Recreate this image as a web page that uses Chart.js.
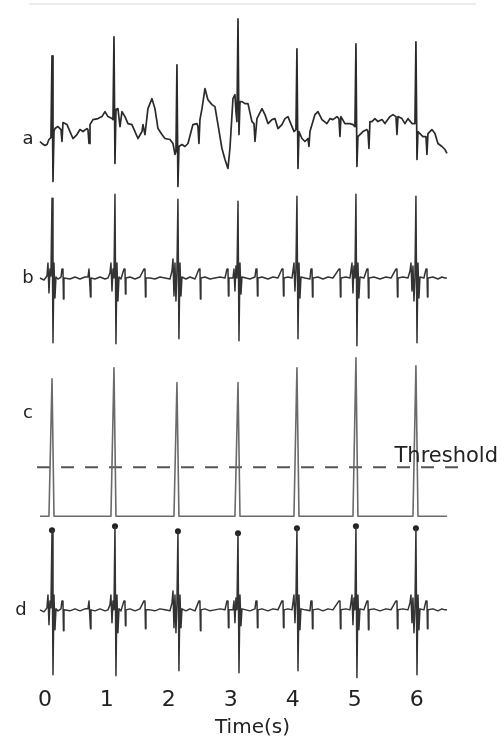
<!DOCTYPE html>
<html>
<head>
<meta charset="utf-8">
<title>ECG R-peak detection</title>
<script src="https://cdn.jsdelivr.net/npm/chart.js@4.4.1/dist/chart.umd.min.js"></script>
<style>
  html, body { margin: 0; padding: 0; background: #fff; }
  canvas { display: block; }
</style>
</head>
<body>
<canvas id="ecgChart" width="504" height="742"></canvas>
<script>
// time axis (s)
const tickValues = [0, 1, 2, 3, 4, 5, 6];
const tickLabels = ["0", "1", "2", "3", "4", "5", "6"];

// trace names and their baselines on the shared (arbitrary unit) y axis
const traceNames = ["a", "b", "c", "d"];
const traceOffsets = [544, 407, 168, 74];

// a: raw ECG (with baseline wander)
const aTime = [
  -0.079, -0.047, 0.002, 0.034, 0.066,
  0.098, 0.115, 0.131, 0.147,
  0.163, 0.211, 0.260, 0.276, 0.292, 0.357, 0.405, 0.453, 0.518, 0.566, 0.615, 0.679, 0.695, 0.712, 0.728, 0.776, 0.857, 0.921, 0.970, 1.018, 1.083,
  1.099, 1.115, 1.131, 1.147,
  1.179, 1.212, 1.244, 1.292, 1.341, 1.405, 1.454, 1.502, 1.567, 1.583, 1.615, 1.663, 1.728, 1.776, 1.825, 1.889, 1.938, 2.018, 2.067, 2.099,
  2.115, 2.131, 2.147, 2.163,
  2.212, 2.260, 2.309, 2.389, 2.454, 2.470, 2.486, 2.502, 2.535, 2.583, 2.631, 2.696, 2.744, 2.793, 2.857, 2.906, 2.954, 2.986, 3.035, 3.067, 3.083,
  3.099, 3.116, 3.132, 3.148,
  3.180, 3.228, 3.277, 3.341, 3.374, 3.390, 3.422, 3.503, 3.551, 3.600, 3.664, 3.712, 3.761, 3.825, 3.874, 3.922, 3.987, 4.019,
  4.051, 4.067, 4.084, 4.100,
  4.148, 4.196, 4.245, 4.261, 4.277, 4.358, 4.406, 4.471, 4.551, 4.600, 4.648, 4.713, 4.745, 4.761, 4.777, 4.842, 4.922, 4.971, 5.003,
  5.019, 5.035, 5.051,
  5.084, 5.132, 5.197, 5.213, 5.229, 5.245, 5.277, 5.326, 5.374, 5.439, 5.487, 5.568, 5.616, 5.665, 5.681, 5.697, 5.761, 5.810, 5.858, 5.923, 5.971,
  5.987, 6.004, 6.020,
  6.052, 6.100, 6.149, 6.165, 6.181, 6.245, 6.294, 6.342, 6.407, 6.455, 6.487
];
const aVal = [
  0, -2, -4, -3, 2,
  4, 86, -40, 10,
  13, 15, 12, 0, 19, 17, 10, 3, 7, 12, 10, 13, 12, -2, 17, 22, 23, 25, 30, 25, 23,
  22, 105, -22, 32,
  33, 15, 30, 25, 18, 17, 10, 3, 10, 17, 7, 33, 43, 33, 13, 7, 3, 2, -2, -13,
  -10, 77, -45, -5,
  -3, -5, -2, 17, 18, 15, -2, 22, 33, 53, 42, 37, 35, 17, -7, -18, -27, -7, 43, 47, 30,
  20, 123, 7, 40,
  40, 38, 38, 20, 18, 0, 23, 33, 27, 18, 22, 23, 13, 17, 23, 25, 15, 10,
  12, 93, -27, 10,
  3, 0, 3, -5, 10, 27, 30, 22, 18, 23, 22, 25, 23, 5, 25, 18, 18, 17, 15,
  98, -25, 5,
  7, 10, 12, 10, -7, 20, 20, 23, 20, 22, 18, 25, 27, 25, 7, 25, 23, 18, 23, 18, 18,
  100, -18, 10,
  8, 5, 5, -13, 8, 12, 8, -2, -5, -8, -12
];

// b: filtered ECG (d is the same signal)
const bTime = [
  -0.079, -0.015, 0.034,
  0.050, 0.066, 0.082, 0.098, 0.115, 0.131, 0.147, 0.163, 0.179,
  0.211, 0.260, 0.276, 0.292, 0.300, 0.308, 0.405, 0.486, 0.566, 0.647, 0.695, 0.712, 0.728, 0.736, 0.744, 0.808, 0.889, 0.970, 1.018,
  1.050, 1.066, 1.083, 1.099, 1.115, 1.131, 1.147, 1.163, 1.179, 1.196,
  1.228, 1.276, 1.292, 1.300, 1.308, 1.373, 1.454, 1.534, 1.599, 1.615, 1.623, 1.631, 1.696, 1.776, 1.857, 1.938, 2.018,
  2.051, 2.067, 2.083, 2.099, 2.115, 2.131, 2.147, 2.163, 2.180, 2.196, 2.212,
  2.276, 2.341, 2.422, 2.486, 2.502, 2.510, 2.518, 2.583, 2.664, 2.744, 2.825, 2.906, 2.938, 2.954, 2.962, 2.970, 3.035,
  3.051, 3.067, 3.083, 3.099, 3.116, 3.132, 3.148, 3.164, 3.180,
  3.245, 3.309, 3.390, 3.406, 3.422, 3.430, 3.438, 3.503, 3.600, 3.680, 3.761, 3.825, 3.842, 3.850, 3.858, 3.922, 3.987,
  4.003, 4.019, 4.035, 4.051, 4.067, 4.084, 4.100, 4.116, 4.132,
  4.196, 4.277, 4.293, 4.310, 4.318, 4.326, 4.406, 4.487, 4.568, 4.648, 4.745, 4.761, 4.769, 4.777, 4.858, 4.922,
  4.938, 4.955, 4.971, 4.987, 5.003, 5.019, 5.035, 5.051, 5.067, 5.084,
  5.148, 5.197, 5.213, 5.221, 5.229, 5.310, 5.406, 5.503, 5.584, 5.665, 5.681, 5.689, 5.697, 5.778, 5.858,
  5.891, 5.907, 5.923, 5.939, 5.955, 5.971, 5.987, 6.004, 6.020, 6.036, 6.052,
  6.116, 6.149, 6.165, 6.173, 6.181, 6.262, 6.342, 6.407, 6.455, 6.487
];
const bVal = [
  0, -2, 2,
  15, -15, 9, 2, 80, -65, 15, -20, 1,
  -1, 1, 9, 9, -21, 0, -1, 1, -1, 1, 1, 9, 9, -19, 0, -1, 1, -1, 0,
  5, 15, -13, 9, 0, 84, -66, 15, -23, 1,
  -1, 9, 9, -16, 0, 1, -1, 1, 9, 9, -19, 0, 0, -1, 1, 0, -1,
  7, 19, -18, 15, -23, 7, 79, -61, 15, -18, 1,
  -1, 1, -1, 9, 9, -21, 0, 1, -1, 0, 1, 0, 9, 9, -18, 0, 0,
  9, -13, 12, 0, 77, -63, 15, -16, 1,
  0, -1, 1, 9, 9, -18, 0, 1, -1, 1, 0, 9, 9, -18, 0, 1, 0,
  7, 15, -13, 9, 82, -61, 15, -20, 1,
  0, -1, 9, 9, -19, 0, 1, -1, 1, 0, 9, 9, -19, 0, 1, 0,
  7, 15, -15, 12, 0, 84, -68, 15, -20, 1,
  0, 9, 9, -20, 0, 1, -1, 1, 0, 9, 9, -19, 0, 1, 0,
  7, 15, -13, 12, -23, 0, 82, -65, 15, -20, 1,
  0, 9, 9, -19, 0, 1, -1, 1, 0, 0
];

// c: squared / integrated signal
const cTime = [
  -0.079,
  0.066, 0.115, 0.147,
  1.066, 1.115, 1.147,
  2.083, 2.131, 2.163,
  3.067, 3.116, 3.148,
  4.019, 4.067, 4.100,
  4.971, 5.019, 5.051,
  5.939, 5.987, 6.020,
  6.487
];
const cVal = [
  0,
  0, 138, 0,
  0, 149, 0,
  0, 134, 0,
  0, 134, 0,
  0, 149, 0,
  0, 159, 0,
  0, 151, 0,
  0
];
const thresholdLevel = 49;
const thresholdSpan = [-0.127, 6.73];

// detected R peaks (marked on d)
const rPeakTime = [0.115, 1.131, 2.147, 3.116, 4.067, 5.019, 5.987];
const rPeakVal = [80, 84, 79, 77, 82, 84, 82];

// build {x,y} points for a trace shifted to its baseline
function toPoints(times, vals, offset) {
  return times.map((t, i) => ({ x: t, y: offset + vals[i] }));
}

const traceStyle = {
  pointRadius: 0,
  tension: 0,
  fill: false,
  borderJoinStyle: "round",
};

// 🏷Ô∏è letters a-d and the threshold label
const labelPlugin = {
  id: "traceLabels",
  afterDraw(chart) {
    const { ctx } = chart;
    const y = chart.scales.y;
    const shifts = [2, 5, -98, 5];
    const xs = [28, 28, 28, 21];
    ctx.save();
    ctx.fillStyle = "#222";
    ctx.font = '18px "DejaVu Sans"';
    ctx.textAlign = "center";
    ctx.textBaseline = "alphabetic";
    traceNames.forEach((name, i) => {
      ctx.fillText(name, xs[i], y.getPixelForValue(traceOffsets[i]) + shifts[i]);
    });
    ctx.font = '21px "DejaVu Sans"';
    ctx.textAlign = "right";
    ctx.fillText("Threshold", 498, y.getPixelForValue(traceOffsets[2] + thresholdLevel) - 5);
    ctx.restore();
  },
};

const ctx = document.getElementById("ecgChart").getContext("2d");
new Chart(ctx, {
  type: "line",
  data: {
    datasets: [
      {
        label: "a",
        data: toPoints(aTime, aVal, traceOffsets[0]),
        borderColor: "#2a2a2a",
        borderWidth: 1.7,
        ...traceStyle,
      },
      {
        label: "b",
        data: toPoints(bTime, bVal, traceOffsets[1]),
        borderColor: "#333",
        borderWidth: 1.5,
        ...traceStyle,
      },
      {
        label: "c",
        data: toPoints(cTime, cVal, traceOffsets[2]),
        borderColor: "#6a6a6a",
        borderWidth: 1.6,
        ...traceStyle,
      },
      {
        label: "Threshold",
        data: thresholdSpan.map((t) => ({ x: t, y: traceOffsets[2] + thresholdLevel })),
        borderColor: "#555",
        borderWidth: 2,
        borderDash: [13, 11],
        ...traceStyle,
      },
      {
        label: "d",
        data: toPoints(bTime, bVal, traceOffsets[3]),
        borderColor: "#333",
        borderWidth: 1.5,
        ...traceStyle,
      },
      {
        label: "R peaks",
        data: toPoints(rPeakTime, rPeakVal, traceOffsets[3]),
        showLine: false,
        pointRadius: 3,
        pointBackgroundColor: "#222",
        pointBorderColor: "#222",
        pointBorderWidth: 0,
      },
    ],
  },
  options: {
    responsive: false,
    animation: false,
    events: [],
    layout: { padding: { left: 30, right: 29, top: 2, bottom: 0 } },
    plugins: {
      legend: { display: false },
      tooltip: { enabled: false },
    },
    scales: {
      x: {
        type: "linear",
        position: "bottom",
        min: -0.24,
        max: 6.94,
        afterBuildTicks: (scale) => {
          scale.ticks = tickValues.map((v) => ({ value: v }));
        },
        grid: { display: false, drawTicks: false },
        border: { display: false },
        ticks: {
          autoSkip: false,
          maxRotation: 0,
          padding: 3,
          color: "#222",
          font: { family: "DejaVu Sans", size: 22 },
          callback: (value, index) => tickLabels[index],
        },
        title: {
          display: true,
          text: "Time(s)",
          color: "#222",
          font: { family: "DejaVu Sans", size: 20 },
          padding: { top: 0, bottom: 2 },
        },
      },
      xTop: {
        type: "linear",
        position: "top",
        min: -0.24,
        max: 6.94,
        grid: { display: false, drawTicks: false },
        border: { display: true, color: "#ececec", width: 2 },
        ticks: { display: false },
      },
      y: {
        display: false,
        min: 0,
        max: 682,
      },
    },
  },
  plugins: [labelPlugin],
});
</script>
</body>
</html>
